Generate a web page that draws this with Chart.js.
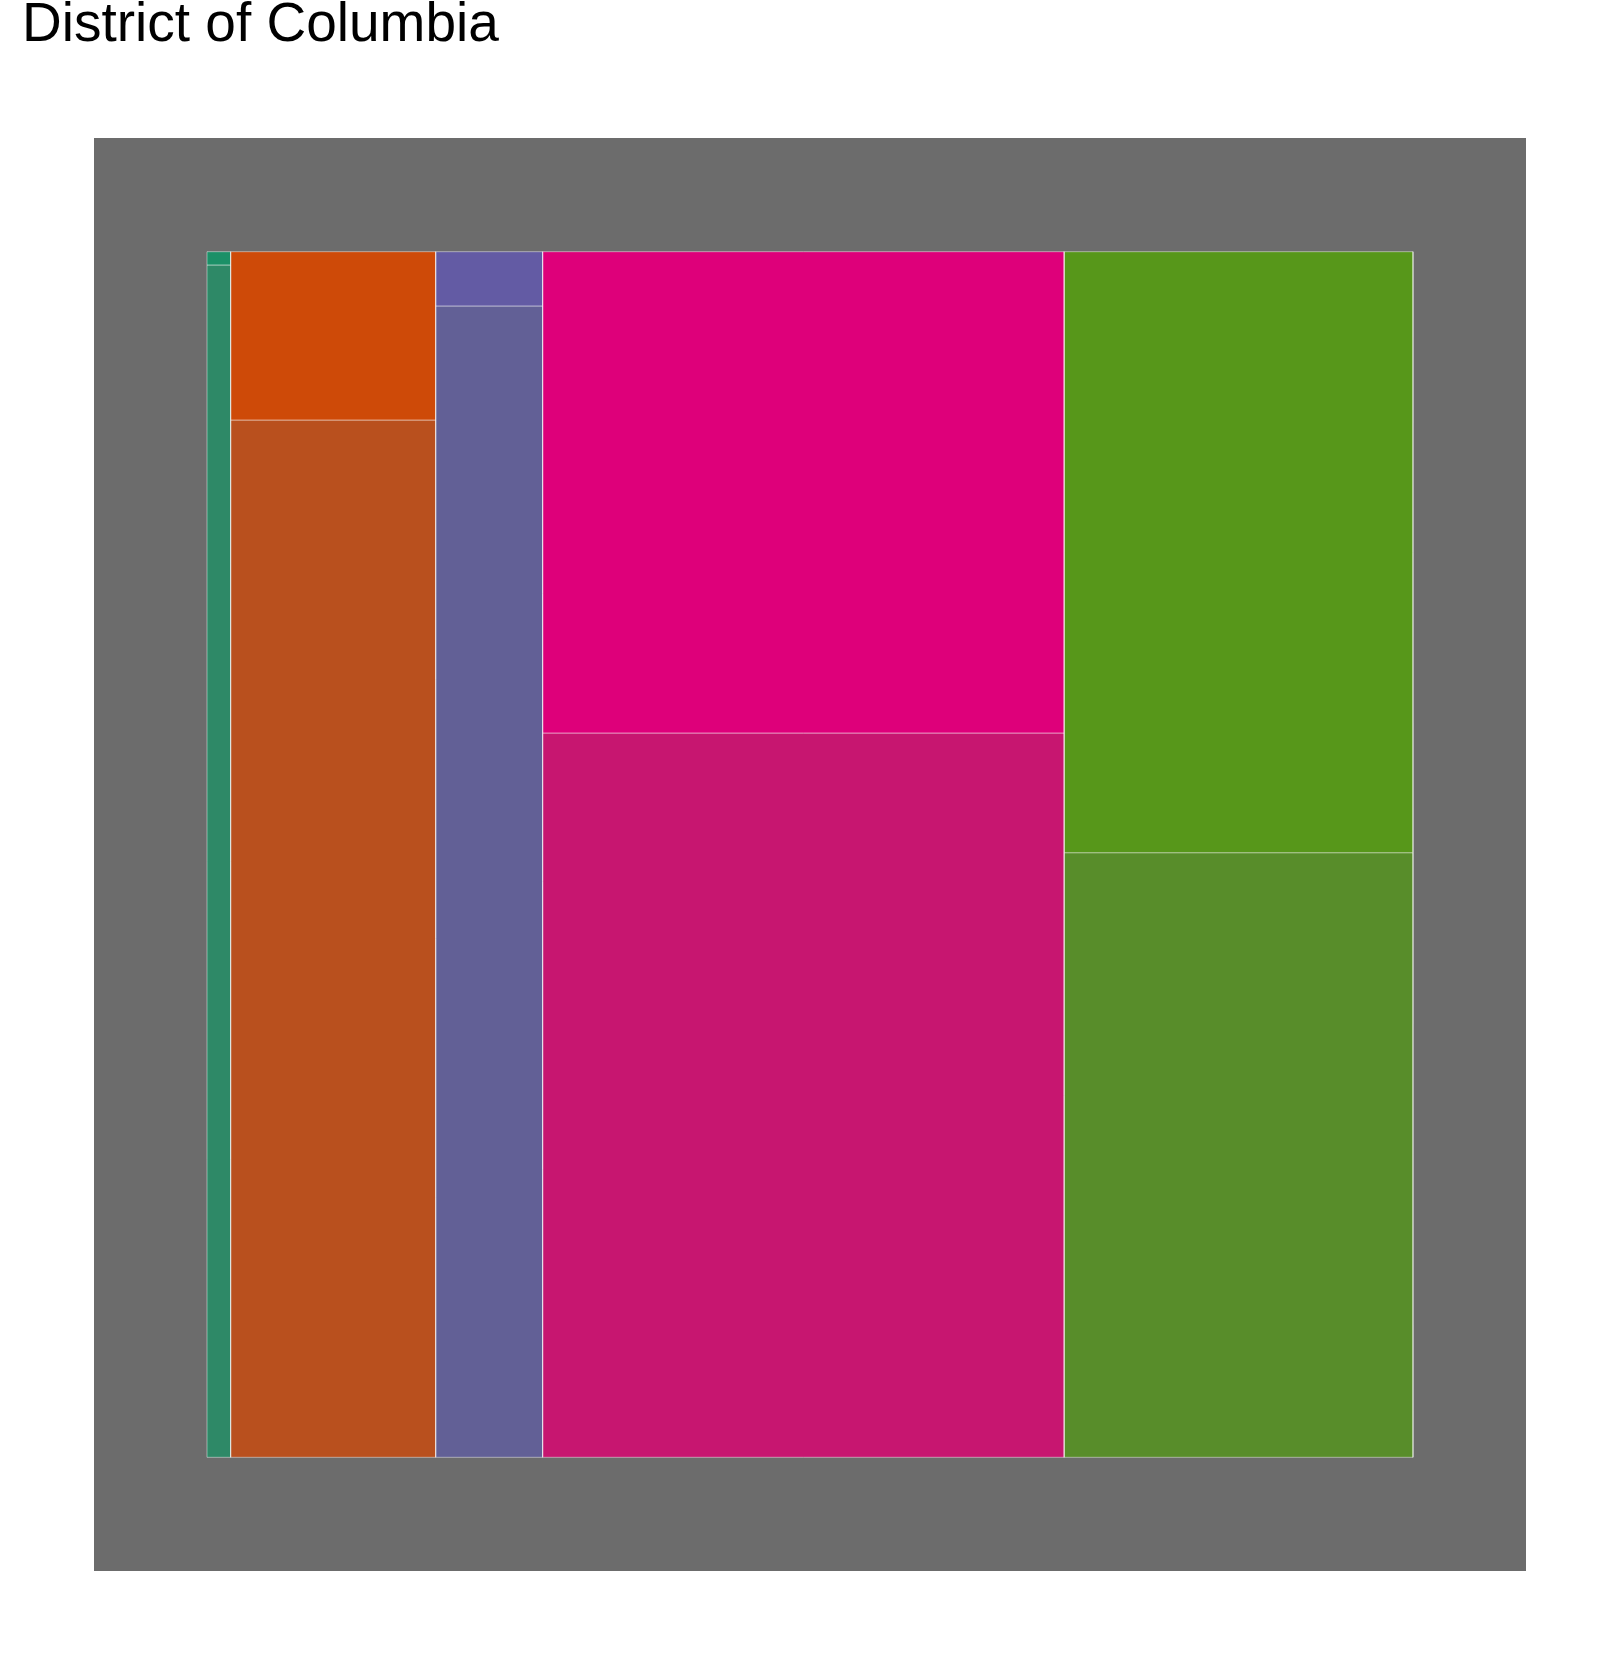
<!DOCTYPE html>
<html>
<head>
<meta charset="utf-8">
<script src="https://cdn.jsdelivr.net/npm/chart.js@4/dist/chart.umd.min.js"></script>
<style>
  html, body { margin: 0; padding: 0; background: #ffffff; }
  #wrap { width: 1608px; height: 1654px; position: relative; }
</style>
</head>
<body>
<div id="wrap"><canvas id="c"></canvas></div>
<script>
// ---- data ----
const chartTitle = 'District of Columbia';
const columnCategories = ['Group 1', 'Group 2', 'Group 3', 'Group 4', 'Group 5'];
const rowCategories = ['Top', 'Bottom'];
// share of the total width taken by each column
const columnShares = [0.0196, 0.1700, 0.0887, 0.4324, 0.2893];
// share of each column's height taken by the top tile
const topShares = [0.0110, 0.1396, 0.0450, 0.3992, 0.4985];
// colours
const topColors = ['#1B9067', '#CE4A08', '#635BA4', '#DE007A', '#57971A'];
const bottomColors = ['#2E8967', '#B9501E', '#626096', '#C71670', '#588D2A'];

// ---- build rectangle datasets from the arrays ----
function rect(x0, x1, y0, y1) {
  return [
    {x: x0, y: y0}, {x: x1, y: y0}, {x: x1, y: y1}, {x: x0, y: y1}, {x: x0, y: y0}
  ];
}
const datasets = [];
let cum = 0;
columnShares.forEach((w, i) => {
  const x0 = cum, x1 = cum + w;
  cum = x1;
  const t = topShares[i];
  datasets.push({
    label: columnCategories[i] + ' / ' + rowCategories[0],
    data: rect(x0, x1, 0, t),
    backgroundColor: topColors[i]
  });
  datasets.push({
    label: columnCategories[i] + ' / ' + rowCategories[1],
    data: rect(x0, x1, t, 1),
    backgroundColor: bottomColors[i]
  });
});
datasets.forEach(d => Object.assign(d, {
  fill: 'shape',
  borderColor: 'rgba(255,255,255,0.45)',
  borderWidth: 1,
  pointRadius: 0,
  pointHoverRadius: 0,
  tension: 0,
  borderJoinStyle: 'miter',
  borderCapStyle: 'butt'
}));

const panelBg = {
  id: 'panelBg',
  beforeDraw(chart) {
    const {ctx, chartArea: a} = chart;
    ctx.save();
    ctx.fillStyle = '#ffffff';
    ctx.fillRect(0, 0, chart.width, chart.height);
    ctx.fillStyle = '#6C6C6C';
    ctx.fillRect(a.left, a.top, a.right - a.left, a.bottom - a.top);
    ctx.restore();
  }
};

new Chart(document.getElementById('c'), {
  type: 'line',
  data: { datasets },
  plugins: [panelBg],
  options: {
    responsive: true,
    maintainAspectRatio: false,
    animation: false,
    events: [],
    layout: { padding: { left: 22, right: 82, top: 0, bottom: 83 } },
    plugins: {
      legend: { display: false },
      tooltip: { enabled: false },
      title: {
        display: true,
        text: chartTitle,
        align: 'start',
        color: '#000000',
        font: { family: "'Liberation Sans', Arial, sans-serif", size: 55, weight: 'normal', lineHeight: 0.9 },
        padding: { top: 1.5, bottom: 87 }
      }
    },
    scales: {
      x: {
        type: 'linear',
        min: -0.0937, max: 1.0937,
        display: false
      },
      y: {
        type: 'linear',
        reverse: true,
        min: -0.0943, max: 1.0943,
        display: true,
        position: 'left',
        ticks: { display: false },
        grid: { display: false },
        border: { display: false },
        afterFit(s) { s.width = 72; }
      }
    }
  }
});
</script>
</body>
</html>
